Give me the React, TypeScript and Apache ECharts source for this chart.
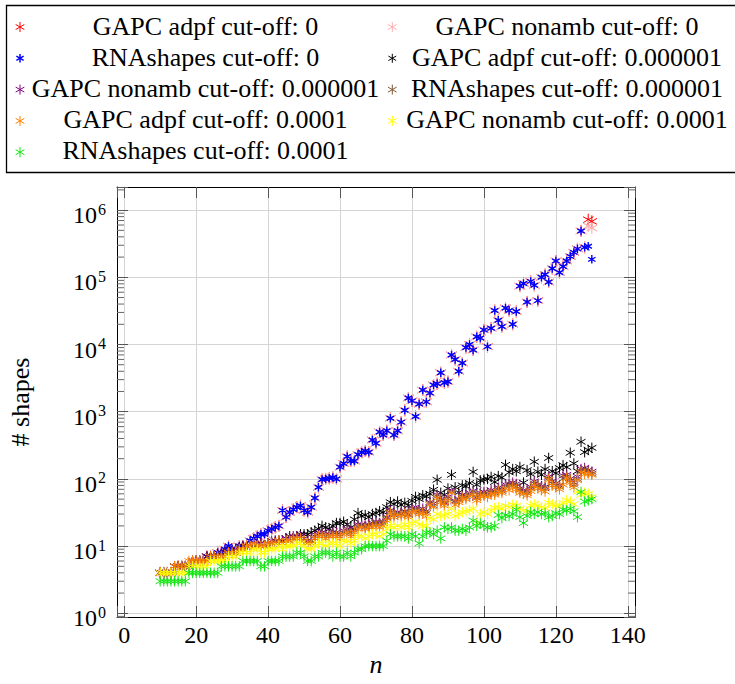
import React, { useEffect, useRef } from 'react';
import * as echarts from 'echarts';

// n values (x axis)
const nValues = [
  10, 11, 12, 13, 14, 15, 16, 17, 18, 19,
  20, 21, 22, 23, 24, 25, 26, 27, 28, 29,
  30, 31, 32, 33, 34, 35, 36, 37, 38, 39,
  40, 41, 42, 43, 44, 45, 46, 47, 48, 49,
  50, 51, 52, 53, 54, 55, 56, 57, 58, 59,
  60, 61, 62, 63, 64, 65, 66, 67, 68, 69,
  70, 71, 72, 73, 74, 75, 76, 77, 78, 79,
  80, 81, 82, 83, 84, 85, 86, 87, 88, 89,
  90, 91, 92, 93, 94, 95, 96, 97, 98, 99,
  100, 101, 102, 103, 104, 105, 106, 107, 108, 109,
  110, 111, 112, 113, 114, 115, 116, 117, 118, 119,
  120, 121, 122, 123, 124, 125, 126, 127, 128, 129,
  130,
];

// RNAshapes cut-off: 0
const rnaShapes0 = [
  4, 4, 4, 4, 4, 5, 5, 5, 5, 6,
  6, 6, 6, 7, 7, 7, 8, 8, 9, 10,
  9, 8, 10, 10, 10, 12, 13, 14, 15, 15,
  17, 18, 19, 20, 34, 27, 32, 35, 38, 40,
  34, 32, 38, 52, 75, 98, 100, 102, 105, 100,
  150, 170, 215, 185, 185, 230, 250, 260, 250, 380,
  340, 500, 450, 520, 800, 450, 520, 700, 1050, 1600,
  1450, 850, 1300, 2100, 1400, 1900, 2500, 2600, 3800, 2700,
  2800, 7000, 6000, 4000, 5300, 9000, 10000, 8300, 13000, 12500,
  16500, 9300, 17500, 32000, 23000, 18500, 35000, 32000, 20000, 31000,
  74000, 81000, 43000, 87000, 76000, 45000, 100000, 110000, 85000, 135000,
  175000, 118000, 145000, 175000, 205000, 235000, 265000, 490000, 280000, 290000,
  185000,
];

// GAPC cut-off: 0 coincide with RNAshapes up to n = 128
const gapcAdpf0 = [...rnaShapes0.slice(0, 119), 720000, 680000];
const gapcNonamb0 = [...rnaShapes0.slice(0, 119), 580000, 540000];

// GAPC adpf cut-off: 0.000001
const gapcAdpf6 = [
  4, 4, 4, 4, 5, 5, 5, 5, 5, 5,
  6, 6, 6, 7, 7, 7, 7, 7, 8, 8,
  8, 9, 9, 10, 10, 10, 10, 10, 11, 10,
  11, 11, 12, 12, 12, 13, 14, 13, 14, 15,
  15, 15, 16, 17, 18, 20, 19, 18, 20, 22,
  22, 23, 21, 19, 25, 31, 28, 29, 27, 30,
  31, 33, 32, 38, 45, 42, 46, 41, 44, 40,
  47, 54, 50, 57, 55, 60, 69, 97, 62, 58,
  72, 115, 75, 63, 80, 78, 87, 127, 82, 95,
  98, 100, 107, 90, 110, 105, 162, 125, 140, 130,
  150, 88, 135, 118, 180, 128, 115, 140, 205, 130,
  122, 145, 160, 150, 245, 170, 130, 357, 250, 270,
  290,
];

// GAPC nonamb cut-off: 0.000001
const gapcNonamb6 = [
  4, 4, 4, 4, 5, 5, 5, 5, 5, 6,
  6, 6, 6, 7, 7, 7, 7, 7, 8, 8,
  8, 9, 9, 10, 10, 10, 11, 11, 11, 10,
  11, 12, 12, 12, 12, 13, 13, 14, 14, 14,
  13, 12, 12, 14, 15, 16, 15, 15, 16, 16,
  15, 17, 18, 16, 18, 21, 21, 20, 21, 22,
  23, 22, 23, 27, 34, 30, 32, 31, 33, 30,
  36, 38, 34, 36, 33, 45, 43, 58, 50, 45,
  54, 68, 47, 50, 58, 56, 62, 66, 54, 62,
  64, 62, 68, 66, 74, 70, 82, 85, 88, 84,
  72, 68, 66, 76, 92, 82, 78, 76, 108, 92,
  86, 80, 112, 115, 100, 88, 108, 140, 145, 135,
  128,
];

// RNAshapes cut-off: 0.000001
const rnaShapes6 = [
  4, 4, 4, 4, 5, 5, 5, 5, 5, 6,
  6, 6, 6, 6, 7, 7, 7, 7, 7, 8,
  8, 8, 9, 9, 10, 10, 10, 10, 10, 10,
  10, 11, 11, 12, 11, 12, 12, 13, 13, 13,
  12, 11, 12, 13, 14, 15, 14, 14, 15, 15,
  14, 16, 17, 15, 17, 20, 20, 19, 20, 21,
  22, 21, 22, 26, 32, 29, 31, 30, 32, 29,
  34, 36, 32, 34, 31, 43, 40, 55, 48, 43,
  51, 65, 45, 48, 55, 53, 59, 63, 52, 59,
  60, 58, 64, 62, 70, 66, 78, 80, 82, 78,
  68, 64, 62, 72, 86, 78, 74, 72, 102, 86,
  80, 76, 100, 108, 94, 82, 100, 130, 135, 128,
  120,
];

// GAPC adpf cut-off: 0.0001
const gapcAdpf4 = [
  4, 4, 4, 4, 5, 5, 5, 5, 6, 6,
  6, 6, 6, 6, 7, 7, 7, 7, 7, 8,
  8, 8, 9, 9, 10, 10, 11, 10, 10, 10,
  11, 11, 11, 12, 11, 12, 12, 13, 13, 13,
  12, 11, 11, 13, 14, 14, 13, 14, 14, 14,
  13, 15, 16, 14, 16, 18, 19, 18, 19, 19,
  20, 19, 20, 24, 31, 27, 29, 28, 30, 27,
  32, 33, 30, 31, 28, 41, 38, 52, 45, 40,
  48, 62, 41, 45, 52, 50, 55, 58, 48, 55,
  56, 54, 60, 58, 65, 62, 72, 68, 76, 70,
  62, 60, 57, 66, 80, 72, 68, 65, 97, 80,
  75, 70, 82, 103, 88, 75, 95, 125, 118, 120,
  115,
];

// GAPC nonamb cut-off: 0.0001
const gapcNonamb4 = [
  4, 4, 4, 4, 4, 4, 4, 4, 5, 5,
  5, 5, 5, 5, 6, 6, 6, 6, 6, 7,
  7, 7, 8, 8, 8, 8, 9, 9, 8, 8,
  9, 9, 9, 10, 9, 10, 10, 10, 11, 11,
  10, 9, 9, 10, 11, 11, 10, 11, 11, 11,
  10, 12, 12, 11, 12, 14, 14, 13, 14, 15,
  15, 14, 15, 18, 20, 19, 20, 19, 21, 19,
  22, 23, 21, 20, 20, 26, 25, 30, 28, 29,
  30, 36, 28, 30, 32, 33, 34, 36, 22, 30,
  32, 30, 34, 37, 38, 36, 40, 38, 41, 40,
  36, 34, 33, 40, 42, 40, 38, 37, 44, 42,
  40, 40, 44, 48, 46, 42, 64, 58, 62, 60,
  54,
];

// RNAshapes cut-off: 0.0001
const rnaShapes4 = [
  3, 3, 3, 3, 3, 3, 3, 3, 4, 4,
  4, 4, 4, 4, 4, 4, 4, 5, 5, 5,
  5, 5, 5, 6, 6, 6, 6, 6, 5, 5,
  6, 6, 6, 6, 7, 7, 7, 7, 8, 8,
  7, 6, 6, 7, 7, 8, 8, 8, 7, 8,
  7, 7, 8, 7, 8, 9, 9, 10, 10, 10,
  10, 10, 10, 12, 15, 14, 14, 14, 14, 13,
  15, 14, 11, 14, 16, 16, 15, 17, 13, 19,
  18, 19, 17, 17, 18, 17, 19, 24, 20, 22,
  20, 19, 19, 20, 29, 26, 29, 28, 30, 35,
  27, 22, 28, 32, 30, 32, 30, 31, 27, 28,
  31, 30, 35, 34, 36, 33, 27, 64, 46, 48,
  50,
];

const xTickStep = 20;
const minorMultipliers = [2, 3, 4, 5, 6, 7, 8, 9];
const minorDecades = [1, 10, 100, 1000, 10000, 100000];

const FONT = 'Liberation Serif';
const ASTERISK = 'path://M0,-10L0,10M-8.66,-5L8.66,5M-8.66,5L8.66,-5';

const XMIN = -2.0;
const XMAX = 142.0;
const YMIN = Math.pow(10, -0.055);
const YMAX = Math.pow(10, 6.344);

const seriesDefs = [
  { name: 'GAPC adpf cut-off: 0', color: '#ff0000', data: gapcAdpf0, size: 12, width: 1, legendH: 5, legendW: 1 },
  { name: 'GAPC nonamb cut-off: 0', color: '#ffb0b0', data: gapcNonamb0, size: 12, width: 1.1, legendH: 5, legendW: 1 },
  { name: 'RNAshapes cut-off: 0', color: '#0000ff', data: rnaShapes0, size: 8.5, width: 1.4, legendH: 4.2, legendW: 1.5 },
  { name: 'GAPC adpf cut-off: 0.000001', color: '#000000', data: gapcAdpf6, size: 10.5, width: 1, legendH: 4.5, legendW: 1 },
  { name: 'GAPC nonamb cut-off: 0.000001', color: '#800080', data: gapcNonamb6, size: 10.5, width: 1, legendH: 5, legendW: 1 },
  { name: 'RNAshapes cut-off: 0.000001', color: '#7f5533', data: rnaShapes6, size: 10.5, width: 1, legendH: 5, legendW: 1 },
  { name: 'GAPC adpf cut-off: 0.0001', color: '#ff8000', data: gapcAdpf4, size: 10.5, width: 1, legendH: 5, legendW: 1 },
  { name: 'GAPC nonamb cut-off: 0.0001', color: '#ffff00', data: gapcNonamb4, size: 10.5, width: 1, legendH: 5, legendW: 1 },
  { name: 'RNAshapes cut-off: 0.0001', color: '#11e611', data: rnaShapes4, size: 10.5, width: 1, legendH: 5, legendW: 1 },
];

function asteriskGroup(x: number, y: number, h: number, color: string, w: number) {
  const a = 0.866 * h;
  const b = 0.5 * h;
  const style = { stroke: color, lineWidth: w };
  return {
    type: 'group',
    x,
    y,
    children: [
      { type: 'line', shape: { x1: 0, y1: -h, x2: 0, y2: h }, style },
      { type: 'line', shape: { x1: -a, y1: -b, x2: a, y2: b }, style },
      { type: 'line', shape: { x1: -a, y1: b, x2: a, y2: -b }, style },
    ],
  };
}

function buildLegend() {
  const children: any[] = [
    {
      type: 'rect',
      shape: { x: 6.5, y: 5.5, width: 780, height: 167 },
      style: { fill: '#fff', stroke: '#000', lineWidth: 1.3 },
    },
  ];
  seriesDefs.forEach((s, i) => {
    const col = i % 2;
    const row = Math.floor(i / 2);
    const mx = col === 0 ? 20 : 392.3;
    const tx = col === 0 ? 205.5 : 567;
    const my = 27 + 31.3 * row;
    const ty = 26 + 31.2 * row;
    children.push(asteriskGroup(mx, my, s.legendH, s.color, s.legendW));
    children.push({
      type: 'text',
      x: tx,
      y: ty,
      style: {
        text: s.name,
        fill: '#000',
        fontSize: 26,
        fontFamily: FONT,
        align: 'center',
        verticalAlign: 'middle',
      },
    });
  });
  return { type: 'group', children };
}

function isPow10(v: number) {
  const l = Math.log10(v);
  return Math.abs(l - Math.round(l)) < 1e-6;
}

export default function App() {
  const ref = useRef<HTMLDivElement>(null);

  useEffect(() => {
    if (!ref.current) return;
    const chart = echarts.init(ref.current, undefined, { renderer: 'svg' });

    const minorTicks: number[][] = [[0, 0.9]];
    minorDecades.forEach((d) => minorMultipliers.forEach((m) => minorTicks.push([0, m * d])));
    minorTicks.push([0, 2000000]);

    const xLabelFmt = (v: number) => (Math.abs(v % xTickStep) < 1e-9 ? String(v) : '');
    const yLabelFmt = (v: number) => {
      if (!isPow10(v)) return '';
      return '{b|10}{s|' + Math.round(Math.log10(v)) + '}';
    };

    const tickStyle = { color: '#555', width: 1 };
    const axisLineStyle = { color: '#000', width: 1 };

    const option: any = {
      animation: false,
      backgroundColor: '#ffffff',
      textStyle: { fontFamily: FONT },
      grid: { left: 117, right: 100, top: 187, bottom: 67, outerBoundsMode: 'none' },
      xAxis: [
        {
          type: 'value',
          min: XMIN,
          max: XMAX,
          splitNumber: 7,
          position: 'bottom',
          axisLine: { show: true, onZero: false, lineStyle: axisLineStyle },
          axisTick: { show: true, inside: true, length: 11, lineStyle: tickStyle },
          axisLabel: { show: true, margin: 6, fontSize: 24, fontFamily: FONT, color: '#000', formatter: xLabelFmt },
          splitLine: { show: true, lineStyle: { color: '#d4d4d4', width: 1 } },
          name: 'n',
          nameLocation: 'middle',
          nameGap: 30,
          nameTextStyle: { fontSize: 26, fontStyle: 'italic', fontFamily: FONT, color: '#000' },
        },
        {
          type: 'value',
          min: XMIN,
          max: XMAX,
          splitNumber: 7,
          position: 'top',
          axisLine: { show: true, onZero: false, lineStyle: axisLineStyle },
          axisTick: { show: true, inside: true, length: 11, lineStyle: tickStyle },
          axisLabel: { show: false },
          splitLine: { show: false },
        },
      ],
      yAxis: [
        {
          type: 'log',
          logBase: 10,
          min: YMIN,
          max: YMAX,
          position: 'left',
          axisLine: { show: true, onZero: false, lineStyle: axisLineStyle },
          axisTick: { show: true, inside: true, length: 11, lineStyle: tickStyle },
          axisLabel: {
            show: true,
            margin: 11,
            color: '#000',
            fontFamily: FONT,
            formatter: yLabelFmt,
            rich: {
              b: { fontSize: 24, fontFamily: FONT, color: '#000', lineHeight: 24, padding: [10, 0, 0, 0] },
              s: { fontSize: 16, fontFamily: FONT, color: '#000', lineHeight: 16, padding: [3, 0, 0, 1], verticalAlign: 'top' },
            },
          },
          splitLine: { show: true, lineStyle: { color: '#d4d4d4', width: 1 } },
          minorTick: { show: false },
          name: '# shapes',
          nameLocation: 'middle',
          nameGap: 84,
          nameRotate: 90,
          nameTextStyle: { fontSize: 26, fontFamily: FONT, color: '#000' },
        },
        {
          type: 'log',
          logBase: 10,
          min: YMIN,
          max: YMAX,
          position: 'right',
          axisLine: { show: true, onZero: false, lineStyle: axisLineStyle },
          axisTick: { show: true, inside: true, length: 11, lineStyle: tickStyle },
          axisLabel: { show: false },
          splitLine: { show: false },
        },
      ],
      series: [
        ...seriesDefs.map((s) => ({
          type: 'scatter',
          name: s.name,
          xAxisIndex: 0,
          yAxisIndex: 0,
          symbol: ASTERISK,
          symbolKeepAspect: true,
          symbolSize: s.size,
          itemStyle: { color: s.color, borderColor: s.color, borderWidth: s.width, opacity: 1 },
          emphasis: { disabled: true },
          data: nValues.map((n, i) => [n, s.data[i]]),
        })),
        {
          type: 'custom',
          name: 'minor ticks',
          silent: true,
          clip: false,
          xAxisIndex: 0,
          yAxisIndex: 0,
          z: 3,
          data: minorTicks,
          renderItem: (params: any, api: any) => {
            const cs = params.coordSys;
            const y = api.coord([0, api.value(1)])[1];
            const style = { stroke: '#666', lineWidth: 1 };
            return {
              type: 'group',
              children: [
                { type: 'line', shape: { x1: cs.x, y1: y, x2: cs.x + 7, y2: y }, style },
                { type: 'line', shape: { x1: cs.x + cs.width - 7, y1: y, x2: cs.x + cs.width, y2: y }, style },
              ],
            };
          },
        },
      ],
      graphic: [buildLegend()],
    };

    chart.setOption(option);
    return () => chart.dispose();
  }, []);

  return (
    <div
      ref={ref}
      style={{ position: 'fixed', left: 0, top: 0, width: '735px', height: '684px', background: '#fff' }}
    />
  );
}
